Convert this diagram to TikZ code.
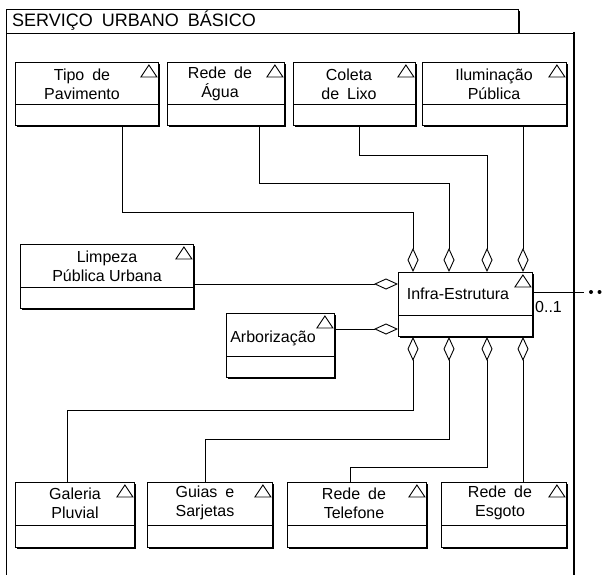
\documentclass[tikz,border=0pt]{standalone}
\usepackage{fontspec}
\setmainfont{Liberation Sans}
\usetikzlibrary{arrows.meta}
% wider word gap used in the class names
\newcommand\wsp{\hspace{0.5em}}
% a UML class box: name, x1, y1, x2, y2, y of the compartment line
\newcommand\umlclass[6]{%
  \fill[black] (#2+2,#3+2) rectangle (#4+2,#5+2);
  \node[classbox, minimum width={#4-#2}, minimum height={#5-#3}, anchor=north west] (#1) at (#2,#3) {};
  \draw[umlline] (#1.west |- 0,#6) -- (#1.east |- 0,#6);
  \draw[umlline, line join=miter] ([shift={(-10,3)}]#1.north east) -- ++(-8,12) -- ++(16,0) -- cycle;
}
\begin{document}
\begin{tikzpicture}[x=1pt,y=-1pt,
  umlline/.style={line width=0.9pt, draw=black},
  classbox/.style={draw=black, fill=white, line width=0.9pt, inner sep=0pt},
  lbl/.style={font=\fontsize{16}{19}\selectfont, align=center, inner sep=0pt},
  agg/.style={umlline, -{Diamond[open, length=24pt, width=11pt]}},
]
\useasboundingbox (0,0) rectangle (602,575);
\fill[white] (0,0) rectangle (602,575);

% package frame with its tab
\fill[black] (518,11) rectangle (520,33);
\draw[umlline, fill=white] (6,33) -- (6,9) -- (518,9) -- (518,33);
\node[anchor=west, font=\fontsize{18}{20}\selectfont, inner sep=0pt] (title) at (12,21) {SERVIÇO\wsp URBANO\wsp BÁSICO};
\draw[umlline] (6,575) -- (6,33) -- (574,33);
\draw[line width=2.6pt] (574,32) -- (574,575);

% classes
\umlclass{tipo}{15}{62}{158}{125}{104}
\umlclass{agua}{167}{62}{284}{125}{104}
\umlclass{coleta}{293}{62}{415}{125}{104}
\umlclass{ilum}{422}{62}{566}{125}{104}
\umlclass{limpeza}{20}{244}{193}{308}{287}
\umlclass{arbor}{226}{313}{334}{377}{356}
\umlclass{infra}{398}{272}{532}{336}{315}
\umlclass{galeria}{15}{482}{134}{547}{525}
\umlclass{guias}{147}{482}{272}{547}{525}
\umlclass{telefone}{287}{482}{426}{547}{525}
\umlclass{esgoto}{441}{482}{566}{547}{525}

% class names
\node[lbl] (tipo-t) at (82,84) {Tipo\wsp de\\Pavimento};
\node[lbl] (agua-t) at (220,84) {Rede\wsp de\\Água};
\node[lbl] (coleta-t) at (349,84) {Coleta\\de\wsp Lixo};
\node[lbl] (ilum-t) at (494,84) {Iluminação\\Pública};
\node[lbl] (limpeza-t) at (107,266) {Limpeza\\Pública Urbana};
\node[lbl] (arbor-t) at (273,338) {Arborização};
\node[lbl] (infra-t) at (458,294) {Infra-Estrutura};
\node[lbl] (galeria-t) at (75,503) {Galeria\\Pluvial};
\node[lbl] (guias-t) at (205,503) {Guias\wsp e\\Sarjetas};
\node[lbl] (telefone-t) at (354,503) {Rede\wsp de\\Telefone};
\node[lbl] (esgoto-t) at (500,503) {Rede\wsp de\\Esgoto};

% aggregations into Infra-Estrutura, from above
\draw[agg] (tipo.south -| 122,0) |- (413,212) -- (infra.north -| 413,0);
\draw[agg] (agua.south -| 259,0) |- (449,183) -- (infra.north -| 449,0);
\draw[agg] (coleta.south -| 359,0) |- (487,155) -- (infra.north -| 487,0);
\draw[agg] (ilum.south -| 523,0) -- (infra.north -| 523,0);
% from the left
\draw[agg] (limpeza.east |- 0,284) -- (infra.west |- 0,284);
\draw[agg] (arbor.east |- 0,329) -- (infra.west |- 0,329);
% from below
\draw[agg] (galeria.north -| 67,0) |- (413,410) -- (infra.south -| 413,0);
\draw[agg] (guias.north -| 205,0) |- (449,439) -- (infra.south -| 449,0);
\draw[agg] (telefone.north -| 350,0) |- (487,467) -- (infra.south -| 487,0);
\draw[agg] (esgoto.north -| 523,0) -- (infra.south -| 523,0);

% association leaving the package
\coordinate (tail) at (584,292);
\draw[umlline] (infra.east |- 0,292) -- (tail);
\fill (591,292) circle (2) (599.5,292) circle (2);
\node[lbl, anchor=west] (mult) at (535,307) {0..1};
\end{tikzpicture}
\end{document}
